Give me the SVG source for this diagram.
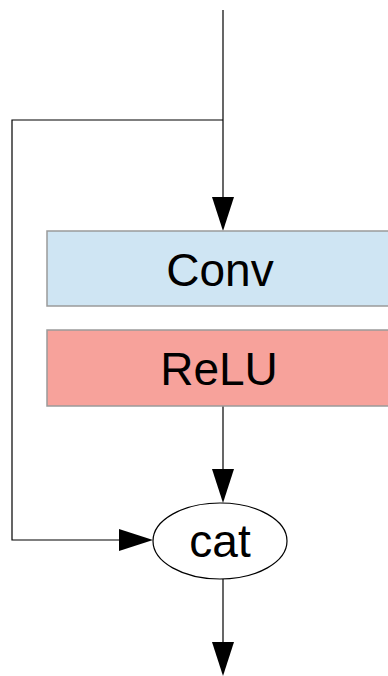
<svg xmlns="http://www.w3.org/2000/svg" width="388" height="676" viewBox="0 0 388 676">
  <style>
    .lbl { font-family: "Liberation Sans", Arial, sans-serif; font-size: 46px; fill: #000; text-anchor: middle; }
    .box { stroke: #9a9a9a; stroke-width: 1.5; }
    .wire { fill: none; stroke: #000; stroke-width: 1.2; }
    .head { fill: #000; }
  </style>

  <g id="connectors">
    <path class="wire" d="M223,10 V197"/>
    <path class="head" d="M212,197 L234,197 L223,231 Z"/>
    <path class="wire" d="M223,120 H12 V540 H119"/>
    <path class="head" d="M119,529 L119,551 L153,540 Z"/>
    <path class="wire" d="M223,406 V469"/>
    <path class="head" d="M212,469 L234,469 L223,503 Z"/>
    <path class="wire" d="M223,579 V642"/>
    <path class="head" d="M212,642 L234,642 L223,676 Z"/>
  </g>

  <g id="conv">
    <rect class="box" x="47" y="231" width="350" height="75" fill="#cfe5f3"/>
    <text class="lbl" x="220" y="286">Conv</text>
  </g>

  <g id="relu">
    <rect class="box" x="47" y="330" width="350" height="76" fill="#f7a29b"/>
    <text class="lbl" x="219" y="385">ReLU</text>
  </g>

  <g id="cat">
    <ellipse cx="220" cy="541" rx="67" ry="38" fill="#fff" stroke="#000" stroke-width="1.2"/>
    <text class="lbl" x="220" y="557">cat</text>
  </g>
</svg>
